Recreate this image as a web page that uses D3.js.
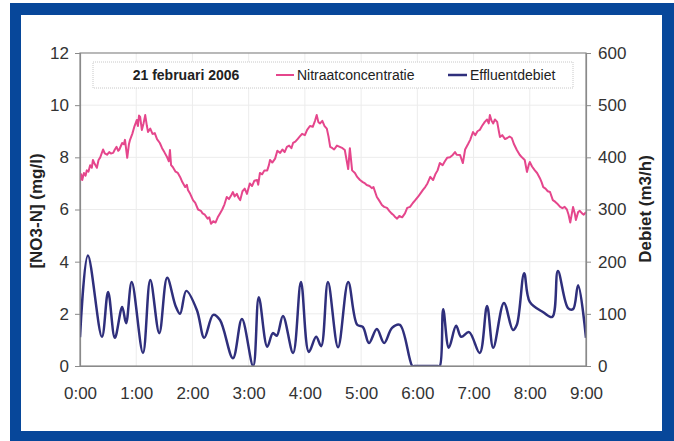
<!DOCTYPE html>
<html>
<head>
<meta charset="utf-8">
<script src="https://cdn.jsdelivr.net/npm/d3@7"></script>
<style>
  html, body { margin: 0; padding: 0; background: #ffffff; }
  svg { display: block; }
  text { font-family: "Liberation Sans", Arial, sans-serif; }
</style>
</head>
<body>
<svg id="chart" width="674" height="441"></svg>
<script>
// ---- data (hours since 0:00) ----
const nitraatTime = [0.00,0.02,0.04,0.07,0.10,0.12,0.15,0.18,0.21,0.23,0.26,0.30,0.33,0.36,0.41,0.44,0.48,0.52,0.55,0.59,
0.62,0.65,0.68,0.70,0.75,0.78,0.80,0.84,0.87,0.89,0.93,0.97,1.01,1.03,1.05,1.07,1.10,1.13,1.16,1.19,
1.21,1.25,1.29,1.33,1.37,1.42,1.46,1.50,1.55,1.58,1.60,1.62,1.65,1.70,1.74,1.78,1.82,1.87,1.90,1.92,
1.96,2.01,2.05,2.10,2.15,2.18,2.22,2.27,2.30,2.33,2.37,2.41,2.45,2.49,2.53,2.57,2.61,2.65,2.69,2.72,
2.75,2.79,2.82,2.85,2.89,2.93,2.97,3.02,3.06,3.10,3.15,3.17,3.20,3.24,3.28,3.33,3.36,3.38,3.42,3.47,
3.51,3.56,3.60,3.64,3.68,3.72,3.76,3.79,3.83,3.87,3.91,3.95,4.00,4.04,4.09,4.14,4.18,4.21,4.24,4.27,
4.31,4.35,4.39,4.42,4.45,4.49,4.52,4.57,4.62,4.67,4.71,4.77,4.80,4.84,4.89,4.93,4.98,5.03,5.07,5.10,
5.15,5.19,5.22,5.28,5.32,5.37,5.41,5.46,5.50,5.54,5.57,5.61,5.64,5.68,5.73,5.78,5.82,5.87,5.92,5.96,
6.01,6.05,6.10,6.14,6.18,6.23,6.28,6.32,6.36,6.40,6.45,6.49,6.53,6.58,6.63,6.67,6.70,6.76,6.81,6.85,
6.90,6.94,6.99,7.03,7.07,7.11,7.15,7.20,7.24,7.27,7.29,7.32,7.35,7.38,7.42,7.45,7.47,7.51,7.56,7.60,
7.64,7.68,7.72,7.77,7.82,7.86,7.91,7.95,7.98,8.00,8.04,8.09,8.13,8.18,8.21,8.24,8.28,8.32,8.36,8.41,
8.45,8.50,8.54,8.58,8.62,8.66,8.69,8.72,8.77,8.80,8.82,8.86,8.89,8.93,8.96,9.00];
const nitraatValues = [7.1,7.35,7.13,7.4,7.3,7.5,7.45,7.7,7.6,7.9,7.75,7.6,7.9,8.0,8.3,8.15,8.1,8.2,8.15,8.17,
8.3,8.4,8.25,8.3,8.55,8.5,8.67,7.98,8.5,8.67,8.9,9.2,9.43,9.2,9.6,9.55,9.05,9.3,9.62,9.2,
8.97,9.1,8.9,8.93,8.7,8.55,8.35,8.2,8.0,7.85,8.28,7.7,7.63,7.45,7.4,7.25,7.05,6.86,6.95,6.75,
6.6,6.36,6.25,6.0,5.95,5.85,5.8,5.65,5.7,5.45,5.55,5.5,5.7,5.85,6.0,6.2,6.48,6.4,6.55,6.67,
6.5,6.6,6.45,6.36,6.7,6.8,6.6,7.0,6.9,7.1,7.13,6.95,7.4,7.35,7.5,7.5,7.7,7.9,7.8,7.95,
8.25,8.17,8.3,8.2,8.4,8.45,8.35,8.55,8.6,8.7,8.8,8.9,8.85,9.05,9.2,9.17,9.4,9.62,9.35,9.3,
9.4,9.2,9.1,8.8,8.4,8.35,8.3,8.45,8.4,8.35,8.28,7.55,8.35,7.5,7.4,7.25,7.13,7.05,7.0,6.94,
6.9,6.82,6.86,6.48,6.35,6.17,6.1,6.06,5.95,5.85,5.8,5.7,5.65,5.75,5.7,5.85,6.06,6.1,6.25,6.35,
6.48,6.6,6.75,6.86,7.0,7.25,7.13,7.35,7.5,7.78,7.7,7.85,7.98,8.0,8.09,8.2,8.1,8.09,7.78,8.3,
8.5,8.67,8.97,8.85,9.0,9.05,9.2,9.36,9.45,9.3,9.62,9.4,9.3,9.45,9.36,9.0,8.78,8.85,8.7,8.74,
8.8,8.74,8.5,8.28,8.1,8.0,7.9,7.44,7.7,7.82,7.65,7.5,7.4,7.2,7.05,6.86,6.8,6.7,6.67,6.36,
6.3,6.2,6.1,6.05,6.1,6.0,5.8,5.5,6.1,5.85,5.6,5.9,5.95,5.85,5.8,5.9];

const debietTime = [0.00,0.14,0.39,0.50,0.62,0.75,0.82,0.92,1.12,1.25,1.41,1.55,1.70,1.78,1.89,2.08,2.21,2.37,2.49,2.72,2.88,3.08,3.18,3.33,3.43,3.50,3.61,3.79,3.93,4.07,4.20,4.29,4.41,4.59,4.77,4.93,5.03,5.14,5.28,5.41,5.55,5.69,5.91,5.95,6.36,6.40,6.46,6.56,6.69,6.78,6.92,7.11,7.24,7.35,7.54,7.70,7.77,7.90,8.00,8.24,8.40,8.50,8.68,8.77,8.86,9.00];
const debietValues = [55,212,56,142,54,113,82,161,25,165,63,169,115,100,144,107,54,98,88,15,90,0,132,37,63,58,96,25,161,27,56,38,161,36,161,79,75,44,71,44,73,79,0,0,0,0,109,35,77,56,65,25,115,35,121,69,79,178,123,103,94,182,111,109,155,54];

const xTickLabels = ["0:00","1:00","2:00","3:00","4:00","5:00","6:00","7:00","8:00","9:00"];
const leftTicks = [0,2,4,6,8,10,12];
const rightTicks = [0,100,200,300,400,500,600];
const legendTitle = "21 februari 2006";
const seriesNames = ["Nitraatconcentratie","Effluentdebiet"];
const yLeftTitle = "[NO3-N] (mg/l)";
const yRightTitle = "Debiet (m3/h)";

// ---- layout ----
const svg = d3.select("#chart");
const W = 674, H = 441;
const plot = {left: 80, right: 586, top: 53, bottom: 366};
const pink = "#e5468c", navy = "#2f2f7c", axisCol = "#8a8a8a", txtCol = "#333333";

// frame
svg.append("rect").attr("x",10).attr("y",3).attr("width",W-10).attr("height",H-3).attr("fill","#07479a");
svg.append("rect").attr("x",21).attr("y",15).attr("width",641).attr("height",416).attr("fill","#ffffff");

const x = d3.scaleLinear().domain([0,9]).range([plot.left, plot.right]);
const yL = d3.scaleLinear().domain([0,12]).range([plot.bottom, plot.top]);
const yR = d3.scaleLinear().domain([0,600]).range([plot.bottom, plot.top]);

svg.append("defs").append("clipPath").attr("id","plotclip").append("rect")
  .attr("x",plot.left).attr("y",plot.top-5).attr("width",plot.right-plot.left).attr("height",plot.bottom-plot.top+5);

// grid
const grid = svg.append("g");
grid.selectAll("line.v").data(d3.range(1,9)).enter().append("line")
  .attr("x1", d=>x(d)).attr("x2", d=>x(d)).attr("y1", plot.top).attr("y2", plot.bottom)
  .attr("stroke","#ececec").attr("stroke-width",1);
grid.selectAll("line.h").data(leftTicks.slice(1,-1)).enter().append("line")
  .attr("x1", plot.left).attr("x2", plot.right).attr("y1", d=>yL(d)).attr("y2", d=>yL(d))
  .attr("stroke","#ececec").attr("stroke-width",1);

// axes
const fs = "17px";
const axL = svg.append("g").attr("transform",`translate(${plot.left},0)`)
  .call(d3.axisLeft(yL).tickValues(leftTicks).tickSize(5).tickPadding(6).tickFormat(d3.format("d")));
const axR = svg.append("g").attr("transform",`translate(${plot.right},0)`)
  .call(d3.axisRight(yR).tickValues(rightTicks).tickSize(5).tickPadding(7).tickFormat(d3.format("d")));
const axB = svg.append("g").attr("transform",`translate(0,${plot.bottom})`)
  .call(d3.axisBottom(x).tickValues(d3.range(0,10)).tickSize(0).tickPadding(21).tickFormat((d,i)=>xTickLabels[i]));
[axL,axR,axB].forEach(a=>{
  a.select(".domain").attr("stroke",axisCol).attr("stroke-width",1.2);
  a.selectAll(".tick line").attr("stroke",axisCol);
  a.selectAll(".tick text").attr("fill",txtCol).style("font-size",fs).style("font-family","'Liberation Sans', Arial, sans-serif");
});

// axis titles
svg.append("text").attr("transform",`translate(42,211) rotate(-90)`)
  .attr("text-anchor","middle").attr("fill","#222").style("font-size","17px").style("font-weight","bold")
  .text(yLeftTitle);
svg.append("text").attr("transform",`translate(651,209) rotate(-90)`)
  .attr("text-anchor","middle").attr("fill","#222").style("font-size","17px").style("font-weight","bold")
  .text(yRightTitle);

// lines
const nitraat = nitraatTime.map((t,i)=>({t, v:nitraatValues[i]}));
const debiet = debietTime.map((t,i)=>({t, v:debietValues[i]}));
const lines = svg.append("g").attr("clip-path","url(#plotclip)");
lines.append("path").datum(nitraat)
  .attr("d", d3.line().x(d=>x(d.t)).y(d=>yL(d.v)))
  .attr("fill","none").attr("stroke",pink).attr("stroke-width",2).attr("stroke-linejoin","round");
lines.append("path").datum(debiet)
  .attr("d", d3.line().curve(d3.curveCatmullRom.alpha(0.5)).x(d=>x(d.t)).y(d=>yR(d.v)))
  .attr("fill","none").attr("stroke",navy).attr("stroke-width",2.5).attr("stroke-linejoin","round");

// plot border
svg.append("rect").attr("x",plot.left).attr("y",plot.top)
  .attr("width",plot.right-plot.left).attr("height",plot.bottom-plot.top)
  .attr("fill","none").attr("stroke",axisCol).attr("stroke-width",1.2);

// legend
const lg = svg.append("g");
lg.append("rect").attr("x",93).attr("y",62).attr("width",480).attr("height",26)
  .attr("fill","#ffffff").attr("stroke","#c8c8c8").attr("stroke-dasharray","1,1");
lg.append("text").attr("x",186).attr("y",80).attr("text-anchor","middle")
  .style("font-size","14px").style("font-weight","bold").attr("fill","#222").text(legendTitle);
const legItems = [{x1:276, x2:294, tx:297, c:pink, w:2, name:seriesNames[0]},
                  {x1:448, x2:467, tx:470, c:navy, w:2.5, name:seriesNames[1]}];
legItems.forEach(it=>{
  lg.append("line").attr("x1",it.x1).attr("x2",it.x2).attr("y1",75).attr("y2",75)
    .attr("stroke",it.c).attr("stroke-width",it.w);
  lg.append("text").attr("x",it.tx).attr("y",80).style("font-size","14px").attr("fill","#222").text(it.name);
});
</script>
</body>
</html>
